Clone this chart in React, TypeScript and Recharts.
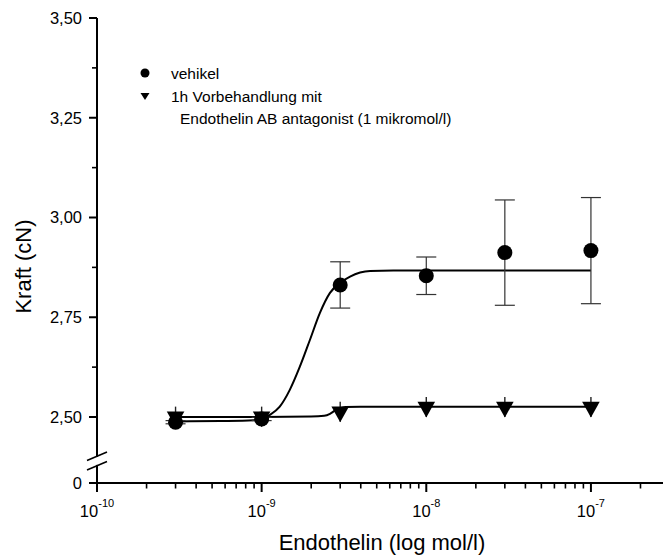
import React from 'react';
import { ComposedChart, Line, Scatter, XAxis, YAxis, ErrorBar, Legend } from 'recharts';

// ---- data ----
const concentrations = [3e-10, 1e-9, 3e-9, 1e-8, 3e-8, 1e-7];
const vehikelValues = [2.487, 2.495, 2.831, 2.854, 2.912, 2.917];
const vehikelErrors = [0.004, 0.004, 0.058, 0.047, 0.132, 0.133];
const antagonistValues = [2.501, 2.501, 2.513, 2.525, 2.525, 2.525];
const antagonistErrors = [0.025, 0.025, 0.025, 0.025, 0.025, 0.025];

// fitted curves (log10 concentration, force)
const vehikelCurveLogX = [-9.523, -9.25, -9.05, -9.0, -8.951, -8.89, -8.829, -8.768, -8.707, -8.646, -8.585, -8.524, -8.463, -8.402, -8.341, -8.2, -7.0];
const vehikelCurveY = [2.489, 2.49, 2.492, 2.495, 2.505, 2.526, 2.568, 2.626, 2.693, 2.761, 2.811, 2.836, 2.852, 2.862, 2.866, 2.867, 2.867];
const antagonistCurveLogX = [-9.523, -9.0, -8.7, -8.62, -8.585, -8.555, -8.524, -8.49, -8.4, -7.0];
const antagonistCurveY = [2.5, 2.5, 2.501, 2.503, 2.508, 2.516, 2.522, 2.525, 2.526, 2.526];

const xMajorTicks = [1e-10, 1e-9, 1e-8, 1e-7];
const xMinorMultipliers = [2, 3, 4, 5, 6, 7, 8, 9];
const X_MAX = 2.74e-7;
const yMajorTicks = [2.5, 2.75, 3.0, 3.25, 3.5];
const yMinorTicks = [2.625, 2.875, 3.125, 3.375];
const Y_ZERO = 2.3346; // bottom of broken axis, labelled "0"
const Y_BREAK = 2.39;
const Y_MAX = 3.5;

const legendLabels = ['vehikel', '1h Vorbehandlung mit', 'Endothelin AB antagonist (1 mikromol/l)'];
const xTitle = 'Endothelin (log mol/l)';
const yTitle = 'Kraft (cN)';

const FONT = "Arial, 'Liberation Sans', Helvetica, sans-serif";

const vehikelPoints = concentrations.map((c, i) => ({ x: c, y: vehikelValues[i], err: vehikelErrors[i] }));
const antagonistPoints = concentrations.map((c, i) => ({ x: c, y: antagonistValues[i], err: antagonistErrors[i] }));
const vehikelCurve = vehikelCurveLogX.map((lx, i) => ({ x: Math.pow(10, lx), y: vehikelCurveY[i] }));
const antagonistCurve = antagonistCurveLogX.map((lx, i) => ({ x: Math.pow(10, lx), y: antagonistCurveY[i] }));

const xTicks: number[] = [];
xMajorTicks.forEach((d) => {
  xTicks.push(d);
  xMinorMultipliers.forEach((m) => {
    if (m * d <= X_MAX) xTicks.push(m * d);
  });
});
const yTicks = [Y_ZERO, Y_BREAK, ...yMajorTicks, ...yMinorTicks].sort((a, b) => a - b);

const XTick = (props: any) => {
  const { x, y, payload } = props;
  const v = payload.value;
  const e = Math.log10(v);
  const major = Math.abs(e - Math.round(e)) < 1e-6;
  return (
    <g>
      <line x1={x} y1={y} x2={x} y2={y + (major ? 9 : 5.5)} stroke="#000" strokeWidth={major ? 2 : 1.6} />
      {major && (
        <text x={x} y={y + 34} textAnchor="middle" fontFamily={FONT} fontSize={16.5} fill="#000">
          <tspan>10</tspan>
          <tspan dy={-10} fontSize={11}>{String(Math.round(e))}</tspan>
        </text>
      )}
    </g>
  );
};

const YTick = (props: any) => {
  const { x, y, payload } = props;
  const v = payload.value;
  if (v === Y_BREAK) {
    return (
      <g>
        <rect x={x - 3} y={y - 4} width={6} height={8} fill="#fff" />
        <line x1={x - 10} y1={y - 0.5} x2={x + 10} y2={y - 9} stroke="#000" strokeWidth={1.6} />
        <line x1={x - 10} y1={y + 9} x2={x + 10} y2={y + 0.5} stroke="#000" strokeWidth={1.6} />
      </g>
    );
  }
  const minor = yMinorTicks.includes(v);
  const label = v === Y_ZERO ? '0' : v.toFixed(2).replace('.', ',');
  return (
    <g>
      <line x1={x} y1={y} x2={x - (minor ? 5 : 8)} y2={y} stroke="#000" strokeWidth={minor ? 1.6 : 2} />
      {!minor && (
        <text x={x - 15} y={y} dy="0.36em" textAnchor="end" fontFamily={FONT} fontSize={16.5} fill="#000">
          {label}
        </text>
      )}
    </g>
  );
};

const CircleMarker = (props: any) => <circle cx={props.cx} cy={props.cy} r={7.5} fill="#000" />;
const TriangleMarker = (props: any) => {
  const { cx, cy } = props;
  return <path d={`M${cx - 8.8},${cy - 5.2}L${cx + 8.8},${cy - 5.2}L${cx},${cy + 10.5}Z`} fill="#000" />;
};

const YTitle = (props: any) => {
  const vb = props.viewBox || { x: 0, y: 0, width: 0, height: 0 };
  const cx = vb.x + 31;
  const cy = vb.y + vb.height / 2 + 16;
  return (
    <text x={cx} y={cy} transform={`rotate(-90, ${cx}, ${cy})`} textAnchor="middle" fontFamily={FONT} fontSize={22} fill="#000">
      {yTitle}
    </text>
  );
};

const XTitle = (props: any) => {
  const vb = props.viewBox || { x: 0, y: 0, width: 0, height: 0 };
  return (
    <text x={vb.x + vb.width / 2 + 2} y={vb.y + 67} textAnchor="middle" fontFamily={FONT} fontSize={22} fill="#000">
      {xTitle}
    </text>
  );
};

const LegendContent = () => (
  <svg width={663} height={140} style={{ position: 'absolute', left: 0, top: 0, overflow: 'visible', pointerEvents: 'none' }}>
    <circle cx={145} cy={73} r={4.5} fill="#000" />
    <text x={171} y={73} dy="0.36em" fontFamily={FONT} fontSize={15.5} fill="#000">{legendLabels[0]}</text>
    <path d="M140.5,93 L149.5,93 L145,100 Z" fill="#000" />
    <text x={171} y={96} dy="0.36em" fontFamily={FONT} fontSize={15.5} fill="#000">{legendLabels[1]}</text>
    <text x={180} y={118} dy="0.36em" fontFamily={FONT} fontSize={15.5} fill="#000">{legendLabels[2]}</text>
  </svg>
);

export default function App() {
  return (
    <div style={{ position: 'absolute', left: 0, top: 0, width: 663, height: 558, background: '#fff', fontFamily: FONT }}>
      <ComposedChart width={663} height={558} margin={{ top: 18, right: 0, bottom: 0, left: 0 }}>
        <XAxis
          dataKey="x"
          type="number"
          scale="log"
          domain={[1e-10, X_MAX]}
          allowDataOverflow
          ticks={xTicks}
          interval={0}
          tick={XTick}
          tickSize={0}
          tickMargin={0}
          tickLine={false}
          axisLine={{ stroke: '#000', strokeWidth: 2 }}
          height={75}
          label={<XTitle />}
        />
        <YAxis
          dataKey="y"
          type="number"
          domain={[Y_ZERO, Y_MAX]}
          allowDataOverflow
          ticks={yTicks}
          interval={0}
          tick={YTick}
          tickSize={0}
          tickMargin={0}
          tickLine={false}
          axisLine={{ stroke: '#000', strokeWidth: 2 }}
          width={97}
          label={<YTitle />}
        />
        <Legend
          layout="vertical"
          align="center"
          verticalAlign="middle"
          content={<LegendContent />}
          wrapperStyle={{ position: 'absolute', left: 0, top: 0, width: 0, height: 0, margin: 0 }}
        />
        <Line data={vehikelCurve} dataKey="y" type="monotone" stroke="#000" strokeWidth={2} dot={false} activeDot={false} isAnimationActive={false} />
        <Line data={antagonistCurve} dataKey="y" type="monotone" stroke="#000" strokeWidth={2} dot={false} activeDot={false} isAnimationActive={false} />
        <Scatter data={antagonistPoints} dataKey="y" shape={TriangleMarker} isAnimationActive={false}>
          <ErrorBar dataKey="err" direction="y" width={0} stroke="#222" strokeWidth={1.4} isAnimationActive={false} />
        </Scatter>
        <Scatter data={vehikelPoints} dataKey="y" shape={CircleMarker} isAnimationActive={false}>
          <ErrorBar dataKey="err" direction="y" width={10} stroke="#333" strokeWidth={1.2} isAnimationActive={false} />
        </Scatter>
      </ComposedChart>
    </div>
  );
}
